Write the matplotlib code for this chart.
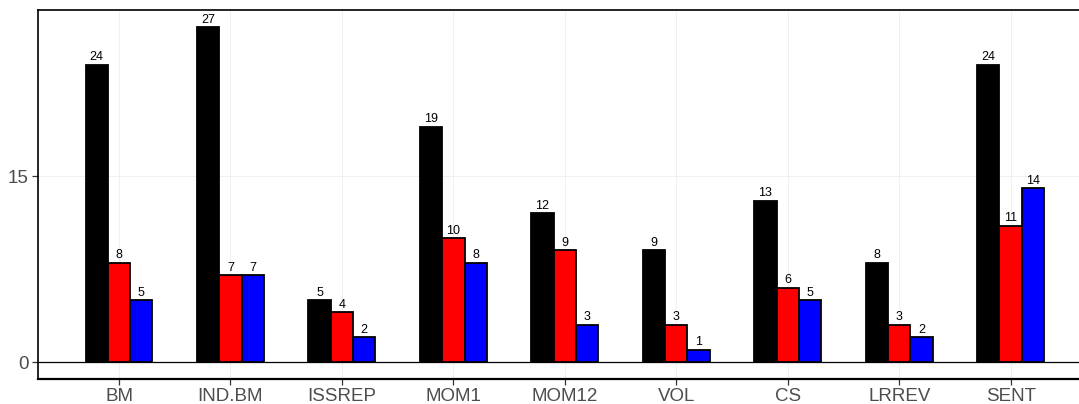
"""Grouped bar chart of counts per anomaly (black / red / blue series)."""

import numpy as np
import matplotlib.pyplot as plt

plt.rcParams["font.family"] = ["Liberation Sans", "DejaVu Sans"]

# Data
CATEGORIES = ["BM", "IND.BM", "ISSREP", "MOM1", "MOM12", "VOL", "CS", "LRREV", "SENT"]
SERIES_A = [24, 27, 5, 19, 12, 9, 13, 8, 24]
SERIES_B = [8, 7, 4, 10, 9, 3, 6, 3, 11]
SERIES_C = [5, 7, 2, 8, 3, 1, 5, 2, 14]
Y_TICKS = [0, 15]

COLORS = ["#000000", "#FF0000", "#0000FF"]
BAR_W = 0.2

fig = plt.figure(figsize=(10.79, 4.04), dpi=100)
# right edge of the panel runs slightly past the image, as in the reference
ax = fig.add_axes([38 / 1079, 25 / 404, 1054 / 1079, 369 / 404])

x = np.arange(len(CATEGORIES))
for i, (vals, col) in enumerate(zip([SERIES_A, SERIES_B, SERIES_C], COLORS)):
    pos = x + (i - 1) * BAR_W
    ax.bar(pos, vals, width=BAR_W, color=col, edgecolor="black", linewidth=1.3, zorder=3)
    for px, v in zip(pos, vals):
        ax.text(px, v + 0.12, str(v), ha="center", va="bottom", fontsize=9,
                color="black", zorder=4)

ax.axhline(0, color="black", linewidth=0.9, zorder=2)

ax.set_xlim(-0.727, 8.73)
ax.set_ylim(-1.37, 28.4)
ax.set_xticks(x)
ax.set_xticklabels(CATEGORIES)
ax.set_yticks(Y_TICKS)

ax.grid(True, color="#F0F0F0", linewidth=0.7, zorder=0)
ax.set_axisbelow(True)

for side in ["top", "left", "bottom"]:
    ax.spines[side].set_linewidth(1.2)
    ax.spines[side].set_color("black")
ax.spines["bottom"].set_linewidth(1.6)
ax.spines["right"].set_visible(False)

ax.tick_params(axis="both", colors="#333333", labelsize=13.5, length=4, width=0.9, pad=2.5)
ax.tick_params(axis="both", labelcolor="#4D4D4D")

fig.savefig("out.png", dpi=100)
plt.close(fig)
